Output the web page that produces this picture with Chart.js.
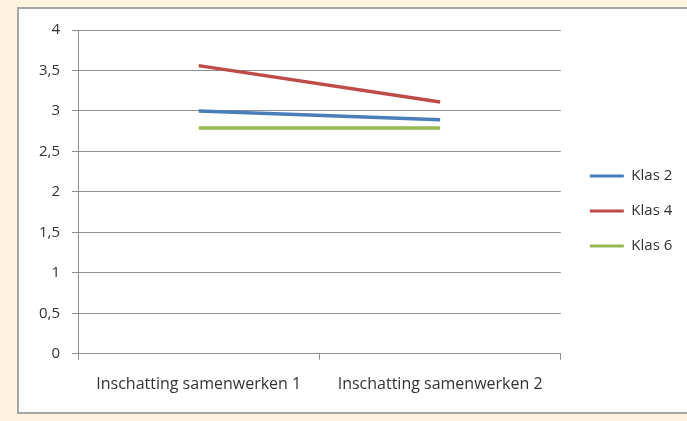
<!DOCTYPE html>
<html>
<head>
<meta charset="utf-8">
<script src="https://cdn.jsdelivr.net/npm/chart.js@4/dist/chart.umd.min.js"></script>
<style>
    body { margin: 0; background: #FEF3DF; width: 687px; height: 421px; overflow: hidden; }
    #kader {
        position: absolute; left: 17px; top: 7px; width: 680px; height: 407px;
        background: #fff; border: 2px solid #A6A6A6; box-sizing: border-box;
    }
    #grafiek { position: absolute; left: 0; top: 0; }
</style>
</head>
<body>
<div id="kader"><canvas id="grafiek" width="668" height="403"></canvas></div>
<script>
// Lijngrafiek - inschatting samenwerken per klas

var categorieen = ['Inschatting samenwerken 1', 'Inschatting samenwerken 2'];
var klas2 = [3.0, 2.89];
var klas4 = [3.56, 3.11];
var klas6 = [2.79, 2.79];
var reeksNamen = ['Klas 2', 'Klas 4', 'Klas 6'];
var kleuren = ['#4A7EBB', '#BE4B48', '#98B954'];

var lettertype = "'Open Sans', sans-serif";
var grijs = '#8E8E8E';

// lege as, alleen om ruimte te maken
function legeAs(positie, maat) {
    return {
        type: 'linear',
        position: positie,
        grid: { display: false },
        border: { display: false },
        ticks: { display: false },
        afterFit: function (schaal) {
            if (positie === 'top') schaal.height = maat;
            else schaal.width = maat;
        }
    };
}

var ctx = document.getElementById('grafiek').getContext('2d');

var grafiek = new Chart(ctx, {
    type: 'line',
    data: {
        labels: categorieen,
        datasets: [klas2, klas4, klas6].map(function (waarden, i) {
            return {
                label: reeksNamen[i],
                data: waarden,
                borderColor: kleuren[i],
                backgroundColor: kleuren[i],
                borderWidth: 3.5,
                pointRadius: 0,
                tension: 0
            };
        })
    },
    options: {
        responsive: false,
        animation: false,
        layout: { padding: { top: 4, right: 7, left: 0, bottom: 3 } },
        scales: {
            x: {
                offset: true,
                grid: { offset: true, drawOnChartArea: false, drawTicks: true, tickLength: 6, color: grijs },
                border: { color: grijs, width: 1 },
                ticks: { color: '#333', padding: 15, maxRotation: 0, font: { family: lettertype, size: 16 } }
            },
            y: {
                min: 0,
                max: 4,
                afterFit: function (schaal) { schaal.width = 59; },
                grid: { color: grijs, tickLength: 6 },
                border: { color: grijs, width: 1 },
                ticks: {
                    stepSize: 0.5,
                    color: '#333',
                    padding: 12,
                    font: { family: lettertype, size: 15 },
                    callback: function (v) { return String(v).replace('.', ','); }
                }
            },
            boven: legeAs('top', 15),
            rechts: legeAs('right', 9)
        },
        plugins: {
            tooltip: { enabled: false },
            legend: {
                position: 'right',
                labels: {
                    boxWidth: 34,
                    boxHeight: 3,
                    padding: 20,
                    color: '#333',
                    font: { family: lettertype, size: 15 },
                    generateLabels: function (chart) {
                        var items = Chart.defaults.plugins.legend.labels.generateLabels(chart);
                        items.forEach(function (it) {
                            it.lineWidth = 0;
                            it.fillStyle = it.strokeStyle;
                        });
                        return items;
                    }
                }
            }
        }
    }
});
</script>
</body>
</html>
